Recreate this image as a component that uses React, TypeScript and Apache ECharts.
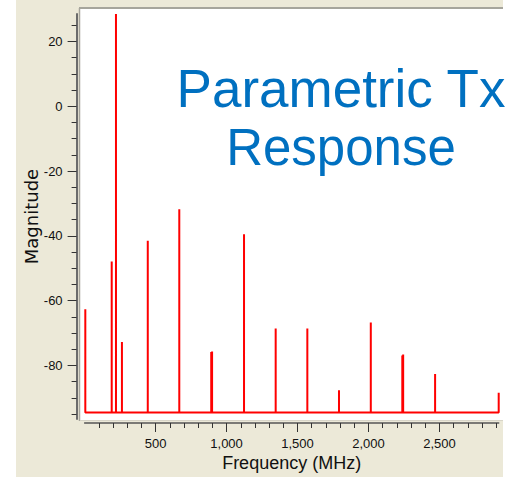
import React, { useEffect, useRef } from 'react';
import * as echarts from 'echarts';

// Spectrum lines: frequency (MHz) and peak magnitude
const frequencies = [5, 191, 221, 263, 445, 667, 892, 898, 1123, 1346, 1569, 1792, 2016, 2238, 2244, 2469, 2917];
const magnitudes = [-62.6, -47.9, 28.5, -72.7, -41.5, -31.8, -75.8, -75.7, -39.5, -68.6, -68.6, -87.6, -66.7, -76.9, -76.6, -82.6, -88.4];
const noiseFloor = -94.5;

const yTickValues = [-80, -60, -40, -20, 0, 20];
const xTickValues = [500, 1000, 1500, 2000, 2500];
const titleLines = ['Parametric Tx', 'Response'];

export default function App() {
  const ref = useRef<HTMLDivElement>(null);

  useEffect(() => {
    if (!ref.current) return;
    const chart = echarts.init(ref.current, null, { renderer: 'svg' });

    const data: number[][] = [];
    frequencies.forEach((f, i) => {
      data.push([f, noiseFloor], [f, magnitudes[i]], [f, noiseFloor]);
    });

    const axisTextColor = '#111111';

    chart.setOption({
      animation: false,
      backgroundColor: '#ffffff',
      grid: { left: 84.6, right: 9.3, top: 14, bottom: 57, containLabel: false },
      graphic: [
        { type: 'rect', silent: true, z: -10, shape: { x: 16, y: 0, width: 487, height: 477 }, style: { fill: '#ECE9D8' } },
        { type: 'rect', silent: true, z: -9, shape: { x: 80, y: 9, width: 423, height: 411 }, style: { fill: '#ffffff' } },
        { type: 'line', silent: true, z: -8, shape: { x1: 79, y1: 8, x2: 503, y2: 8 }, style: { stroke: '#a6a59c', lineWidth: 2 } },
        { type: 'line', silent: true, z: -8, shape: { x1: 79.5, y1: 8, x2: 79.5, y2: 421 }, style: { stroke: '#a6a59c', lineWidth: 1.5 } },
        { type: 'line', silent: true, z: -8, shape: { x1: 80, y1: 420.5, x2: 503, y2: 420.5 }, style: { stroke: '#d8d5c8', lineWidth: 1 } },
        {
          type: 'text', silent: true, z: 100, x: 341, y: 88,
          style: { text: titleLines[0], font: '53px "Liberation Sans", Arial, sans-serif', fill: '#0070C0', align: 'center', verticalAlign: 'middle', textAlign: 'center', textVerticalAlign: 'middle' },
        },
        {
          type: 'text', silent: true, z: 100, x: 341, y: 147,
          style: { text: titleLines[1], font: '51px "Liberation Sans", Arial, sans-serif', fill: '#0070C0', align: 'center', verticalAlign: 'middle', textAlign: 'center', textVerticalAlign: 'middle' },
        },
      ],
      xAxis: {
        type: 'value',
        min: 0,
        max: 2917,
        splitNumber: 5,
        offset: 4,
        axisLine: { show: true, onZero: false, lineStyle: { color: '#555555', width: 1.5 } },
        axisTick: { show: true, length: 9, customValues: xTickValues, lineStyle: { color: '#333333', width: 1 } },
        minorTick: { show: true, splitNumber: 5, length: 5, lineStyle: { color: '#333333', width: 1 } },
        axisLabel: {
          customValues: xTickValues,
          margin: 14,
          color: axisTextColor,
          fontFamily: '"Liberation Sans", Arial, sans-serif',
          fontSize: 13,
          formatter: (v: number) => v.toLocaleString('en-US'),
        },
        splitLine: { show: false },
        name: 'Frequency (MHz)',
        nameLocation: 'middle',
        nameGap: 31,
        nameMoveOverlap: false,
        nameTextStyle: { color: axisTextColor, fontFamily: '"Liberation Sans", Arial, sans-serif', fontSize: 18 },
      },
      yAxis: {
        type: 'value',
        min: -96.5,
        max: 28.5,
        splitNumber: 6,
        offset: 8,
        axisLine: { show: true, onZero: false, lineStyle: { color: '#6b6b6b', width: 2 } },
        axisTick: { show: true, length: 9, customValues: yTickValues, lineStyle: { color: '#333333', width: 1 } },
        minorTick: { show: true, splitNumber: 4, length: 5, lineStyle: { color: '#333333', width: 1 } },
        axisLabel: {
          customValues: yTickValues,
          margin: 14,
          color: axisTextColor,
          fontFamily: '"Liberation Sans", Arial, sans-serif',
          fontSize: 13,
        },
        splitLine: { show: false },
        name: 'Magnitude',
        nameLocation: 'middle',
        nameGap: 36,
        nameMoveOverlap: false,
        nameTextStyle: { color: axisTextColor, fontFamily: '"DejaVu Sans", sans-serif', fontSize: 18 },
      },
      series: [
        {
          type: 'line',
          data,
          showSymbol: false,
          symbol: 'none',
          clip: false,
          silent: true,
          lineStyle: { color: '#ff0000', width: 2, cap: 'butt', join: 'bevel' },
          z: 5,
        },
      ],
    });

    return () => chart.dispose();
  }, []);

  return <div ref={ref} style={{ position: 'absolute', left: 0, top: 0, width: 508, height: 477 }} />;
}
